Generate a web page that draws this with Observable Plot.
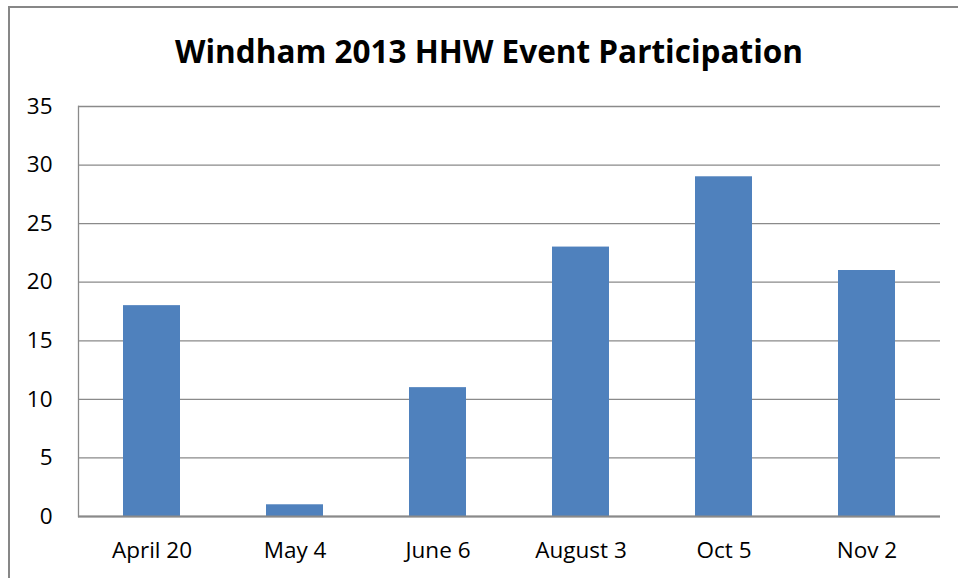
<!DOCTYPE html>
<html><head><meta charset="utf-8">
<script src="https://cdn.jsdelivr.net/npm/d3@7"></script>
<script src="https://cdn.jsdelivr.net/npm/@observablehq/plot@0.6"></script>
<style>
html,body{margin:0;padding:0;background:#fff;}
#wrap{position:relative;width:958px;height:578px;overflow:hidden;font-family:"Open Sans",sans-serif;}
#border{position:absolute;left:8px;top:6px;width:1000px;height:1000px;border:2px solid #878787;box-sizing:border-box;}
#title{position:absolute;left:0;top:29px;width:978px;text-align:center;font-weight:bold;font-size:31.5px;color:#000;}
#chart{position:absolute;left:0;top:0;}
</style></head>
<body><div id="wrap"><div id="border"></div><div id="chart"></div><div id="title">Windham 2013 HHW Event Participation</div></div>
<script>
const categories = ["April 20","May 4","June 6","August 3","Oct 5","Nov 2"];
const participants = [18, 1, 11, 23, 29, 21];
const yTicks = [0,5,10,15,20,25,30,35];
const data = categories.map((c,i)=>({event:c, value:participants[i]}));
const chart = Plot.plot({
  width:958, height:578,
  marginLeft:78, marginRight:18, marginTop:106, marginBottom:62,
  style:{fontFamily:'"Open Sans",sans-serif', fontSize:"22.5px", color:"#000", background:"transparent"},
  x:{domain:categories, paddingInner:0.6, paddingOuter:0.3, label:null, tickSize:0, tickPadding:26},
  y:{domain:[0,35], ticks:yTicks, label:null, tickSize:0, tickPadding:26},
  marks:[
    Plot.ruleY(yTicks, {stroke:"#8a8a8a", strokeWidth:1.3}),
    Plot.frame({anchor:"left", stroke:"#8a8a8a", strokeWidth:1.3}),
    Plot.barY(data, {x:"event", y:"value", fill:"#4F81BD"}),
    Plot.ruleY([0], {stroke:"#8a8a8a", strokeWidth:2})
  ]
});
document.getElementById("chart").appendChild(chart);
</script></body></html>
